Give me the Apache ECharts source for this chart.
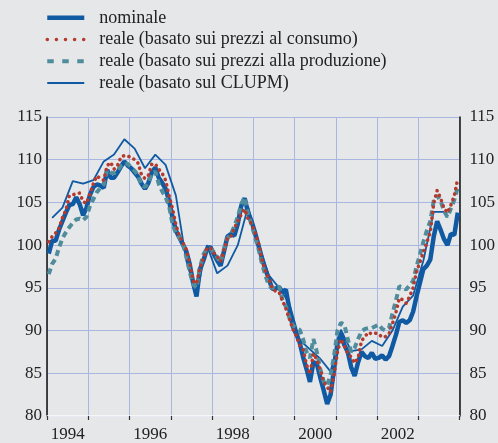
<!DOCTYPE html>
<html>
<head>
<meta charset="utf-8">
<script src="https://cdn.jsdelivr.net/npm/echarts@6/dist/echarts.min.js"></script>
<style>
  html, body { margin: 0; padding: 0; background: #e6e7e9; }
  #chart { width: 498px; height: 443px; }
</style>
</head>
<body>
<div id="chart"></div>
<script>
// anni sull'asse orizzontale (etichetta ogni due anni)
const years = ['1994', '1995', '1996', '1997', '1998', '1999', '2000', '2001', '2002', '2003'];
const startYear = 1994;

// dati mensili, gen 1994 - dic 2003
const nominale = [
  99.0, 100.5, 100.5, 101.8, 102.8, 103.8, 104.7, 104.8, 105.6, 104.8, 103.5, 104.4,
  105.9, 106.8, 107.1, 107.0, 106.7, 108.8, 107.9, 107.9, 108.5, 109.2, 109.8, 109.3,
  109.0, 108.5, 108.0, 107.2, 106.6, 107.3, 108.5, 109.1, 107.9, 107.3, 106.6, 105.2,
  103.3, 101.7, 100.9, 100.1, 99.3, 97.8, 95.6, 94.0, 97.2, 98.2, 99.5, 99.8,
  99.0, 98.2, 97.6, 99.3, 101.0, 101.3, 101.1, 102.5, 104.6, 105.5, 103.8, 102.8,
  101.5, 100.0, 98.5, 97.2, 96.1, 94.9, 94.9, 95.1, 94.5, 94.8, 92.5, 90.5,
  89.6, 88.6, 86.9, 85.5, 84.0, 86.3, 86.1, 84.5, 83.0, 81.4, 82.5, 85.5,
  88.5, 89.7, 88.3, 87.5, 85.7, 84.7, 86.3, 87.5, 87.0, 86.8, 87.4, 86.7,
  86.8, 87.1, 86.6, 87.0, 88.2, 89.5, 91.0, 91.2, 90.9, 91.2, 92.2, 94.0,
  95.6, 97.2, 97.6, 98.3, 101.0, 102.8, 101.8, 100.7, 100.0, 101.3, 101.2, 103.8
];
const realeConsumo = [
  100.4, 101.0, 101.4, 102.0, 103.2, 104.1, 105.8, 105.9, 106.0, 106.1, 105.1, 104.9,
  106.0, 107.2, 108.1, 107.8, 107.6, 109.3, 109.7, 108.9, 109.3, 110.3, 110.5, 110.4,
  110.3, 110.0, 109.6, 108.2, 107.8, 108.2, 109.5, 109.5, 108.9, 108.4, 107.6, 105.8,
  104.3, 102.4, 101.1, 100.3, 99.5, 97.9, 95.8, 95.5, 97.3, 98.4, 99.6, 99.7,
  99.1, 98.7, 98.1, 99.4, 100.8, 101.0, 102.0, 102.8, 103.6, 104.2, 103.1, 102.5,
  101.5, 100.3, 98.4, 97.0, 96.1, 95.0, 94.6, 94.5, 93.5, 92.6, 91.4, 90.2,
  89.4, 88.3, 87.8, 86.0, 84.9, 87.3, 86.6, 85.4, 84.0, 83.4, 82.8, 84.8,
  87.5, 89.0, 88.2, 87.3, 86.9, 86.2, 86.8, 88.8, 89.3, 89.8, 89.6, 89.7,
  89.6, 89.2, 89.3, 89.6, 90.8, 92.1, 93.8, 93.6, 93.2, 94.0, 95.0, 96.9,
  98.0, 99.2, 100.3, 101.5, 104.9, 106.4, 105.5, 104.3, 103.8, 104.7, 105.8, 107.8
];
const realeProduzione = [
  96.6, 97.8, 98.4, 99.7, 100.8, 101.5, 102.1, 102.6, 103.0, 103.1, 102.9, 103.3,
  104.6, 105.4, 106.2, 106.7, 107.1, 108.8, 108.5, 108.4, 108.7, 109.3, 109.6, 109.5,
  109.1, 108.7, 108.2, 107.0, 106.8, 107.3, 108.4, 108.6, 107.2, 106.3, 105.6, 104.6,
  102.5, 101.4, 100.9, 100.2, 98.7, 96.9, 95.4, 95.0, 97.4, 98.9, 99.6, 99.6,
  99.2, 98.6, 98.0, 99.6, 100.8, 101.3, 102.2, 103.3, 104.8, 105.6, 103.6, 102.4,
  101.0, 99.6, 97.9, 96.5, 95.3, 95.0, 94.9, 95.2, 93.6, 92.8, 91.5, 90.6,
  90.3, 90.1, 89.0, 87.5, 86.8, 89.0, 87.5, 85.5, 84.0, 83.6, 84.8, 87.0,
  90.0, 90.9, 90.7, 89.0, 87.5, 88.0, 89.0, 89.9, 90.2, 90.3, 90.3, 90.5,
  90.7, 90.2, 90.0, 90.3, 92.0, 93.5, 95.2, 95.0, 94.8, 95.3, 95.8, 97.5,
  98.9, 100.4, 101.7, 102.8, 105.2, 105.8, 105.2, 104.0, 103.3, 104.3, 105.3, 106.8
];
// dati trimestrali, I trim 1994 - III trim 2003
const realeClupm = [
  103.2, 104.4, 107.5, 107.2, 107.6, 109.8, 110.6, 112.4, 111.3, 109.0, 110.6, 109.4,
  105.8, 98.2, 94.2, 100.0, 96.7, 97.6, 100.0, 104.5, 100.2, 96.5, 95.0, 93.2,
  88.9, 87.8, 86.7, 85.2, 90.1, 87.6, 87.8, 88.8, 88.2, 90.0, 92.8, 94.1,
  98.2, 103.9, 103.9
];

const yMin = 80, yMax = 115, yStep = 5;

// posizione nel tempo: centro del mese (mensili) o mese centrale del trimestre
function monthly(values) {
  return values.map((v, i) => [startYear + (i + 0.5) / 12, v]);
}
function quarterly(values) {
  return values.map((v, i) => [startYear + (i * 3 + 1.5) / 12, v]);
}

const font = 'Liberation Serif';
const textColor = '#222';
const gridColor = '#a9b6df';
const blue = '#0f5aa3';
const red = '#b5392c';
const teal = '#4f8d9c';

const chart = echarts.init(document.getElementById('chart'));
chart.setOption({
  backgroundColor: '#e6e7e9',
  animation: false,
  grid: { left: 47, right: 38, top: 117, bottom: 24 },
  legend: {
    orient: 'vertical',
    left: 40,
    top: 2,
    itemWidth: 37,
    itemHeight: 14,
    itemGap: 0,
    itemStyle: { opacity: 0 },
    textStyle: { fontFamily: font, fontSize: 18, color: textColor, lineHeight: 21.7, padding: [0, 0, 0, 10] },
    data: [
      { name: 'nominale', lineStyle: { width: 4.5 } },
      { name: 'reale (basato sui prezzi al consumo)', lineStyle: { type: [0.1, 9], cap: 'round', width: 3.5 } },
      { name: 'reale (basato sui prezzi alla produzione)', lineStyle: { type: [6.5, 8.5], width: 4 } },
      { name: 'reale (basato sul CLUPM)', lineStyle: { width: 2 } }
    ]
  },
  xAxis: [
    {
      type: 'category',
      data: years,
      boundaryGap: true,
      position: 'bottom',
      axisLine: { show: true, lineStyle: { color: '#fbfbfb', width: 1.5 } },
      axisTick: { show: true, interval: 0, length: 4, lineStyle: { color: '#333', width: 1.2 } },
      axisLabel: { interval: 1, margin: 10, fontFamily: font, fontSize: 17, color: textColor },
      splitLine: { show: true, interval: 0, lineStyle: { color: gridColor, width: 1 } }
    },
    {
      type: 'value',
      min: startYear,
      max: startYear + years.length,
      show: false,
      splitLine: { show: false }
    }
  ],
  yAxis: [
    {
      type: 'value',
      position: 'left',
      min: yMin, max: yMax, interval: yStep,
      axisLine: { show: true, lineStyle: { color: '#111', width: 1.5 } },
      axisTick: { show: false },
      axisLabel: { margin: 5, fontFamily: font, fontSize: 17, color: textColor },
      splitLine: { show: true, lineStyle: { color: gridColor, width: 1 } }
    },
    {
      type: 'value',
      position: 'right',
      min: yMin, max: yMax, interval: yStep,
      axisLine: { show: true, lineStyle: { color: '#111', width: 1.5 } },
      axisTick: { show: false },
      axisLabel: { margin: 10, fontFamily: font, fontSize: 17, color: textColor },
      splitLine: { show: false }
    }
  ],
  series: [
    {
      name: 'nominale',
      type: 'line',
      xAxisIndex: 1, yAxisIndex: 0,
      symbol: 'none',
      data: monthly(nominale),
      itemStyle: { color: blue },
      lineStyle: { color: blue, width: 4.5 }
    },
    {
      name: 'reale (basato sul CLUPM)',
      type: 'line',
      xAxisIndex: 1, yAxisIndex: 0,
      symbol: 'none',
      data: quarterly(realeClupm),
      itemStyle: { color: blue },
      lineStyle: { color: blue, width: 1.8 }
    },
    {
      name: 'reale (basato sui prezzi alla produzione)',
      type: 'line',
      xAxisIndex: 1, yAxisIndex: 0,
      symbol: 'none',
      data: monthly(realeProduzione),
      itemStyle: { color: teal },
      lineStyle: { color: teal, width: 4, type: [6, 4] }
    },
    {
      name: 'reale (basato sui prezzi al consumo)',
      type: 'line',
      xAxisIndex: 1, yAxisIndex: 0,
      symbol: 'none',
      data: monthly(realeConsumo),
      itemStyle: { color: red },
      lineStyle: { color: red, width: 3.6, type: [0.1, 5.5], cap: 'round' }
    }
  ]
});
</script>
</body>
</html>
